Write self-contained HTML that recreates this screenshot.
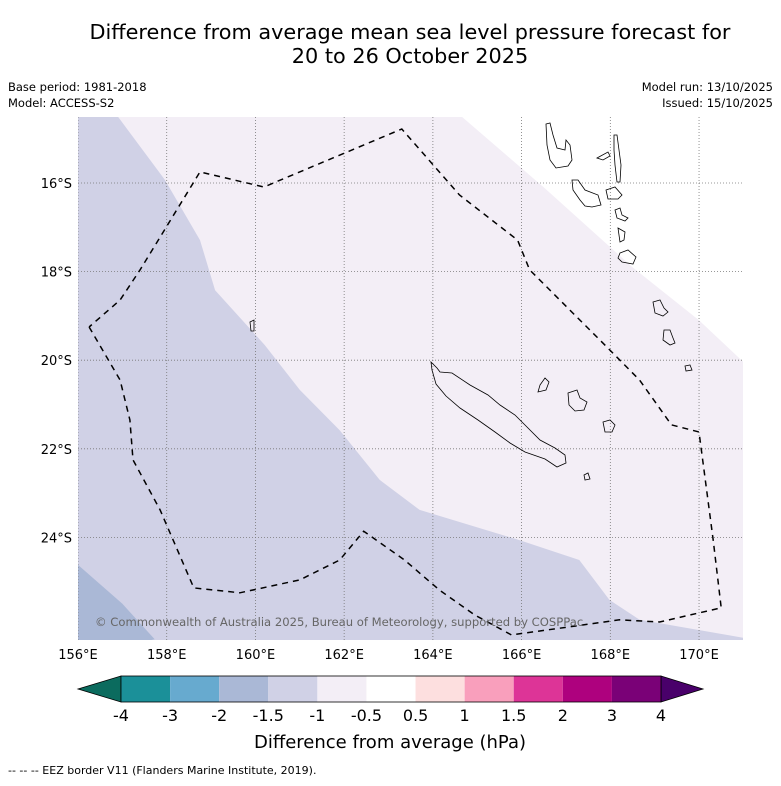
<!DOCTYPE html>
<html><head><meta charset="utf-8"><style>
html,body{margin:0;padding:0;background:#fff;}
body{width:781px;height:781px;overflow:hidden;font-family:"Liberation Sans","DejaVu Sans",sans-serif;}
</style></head><body>
<svg width="781" height="781" viewBox="0 0 781 781" xmlns="http://www.w3.org/2000/svg" font-family="'DejaVu Sans','Liberation Sans',sans-serif">
<text x="410" y="39" font-size="20.8" text-anchor="middle">Difference from average mean sea level pressure forecast for</text>
<text x="410" y="63" font-size="20.8" text-anchor="middle">20 to 26 October 2025</text>
<text x="8" y="91" font-size="11.5">Base period: 1981-2018</text>
<text x="8" y="107" font-size="11.5">Model: ACCESS-S2</text>
<text x="773" y="91" font-size="11.5" text-anchor="end">Model run: 13/10/2025</text>
<text x="773" y="107" font-size="11.5" text-anchor="end">Issued: 15/10/2025</text>
<defs><clipPath id="mapclip"><rect x="78" y="117" width="665" height="523"/></clipPath></defs>
<g id="map" clip-path="url(#mapclip)"></g>
<g id="axes"></g>
<g id="cbar"></g>
<text x="390" y="748" font-size="18" text-anchor="middle">Difference from average (hPa)</text>
<text x="8" y="774" font-size="11">--  --  -- EEZ border V11 (Flanders Marine Institute, 2019).</text>
</svg>
<script>
const lonTicks=[156,158,160,162,164,166,168,170];
const latTicks=[-16,-18,-20,-22,-24];
const cbLevels=[-4,-3,-2,-1.5,-1,-0.5,0.5,1,1.5,2,3,4];
const cbColors=["#1b9099","#67aacf","#aab8d6","#d0d1e6","#f3eef6","#ffffff","#fddfdf","#f99fbc","#dd3497","#ae017e","#7a0177"];
const cbLow="#0b6b5e", cbHigh="#49006a";
const bandMinus15Lon=[156.9,157.96,158.75,159.09,160.21,161.0,161.9,162.8,163.7,165.95,167.3,167.98,168.66,171.2];
const bandMinus15Lat=[-14.5,-15.93,-17.29,-18.42,-19.66,-20.67,-21.58,-22.7,-23.38,-24.06,-24.51,-25.41,-25.86,-26.3];
const bandZeroLon=[164.65,166.5,168.5,170.0,171.0];
const bandZeroLat=[-14.5,-16.1,-17.9,-19.1,-20.04];
const bandMinus2Lon=[156.0,157.0,157.73];
const bandMinus2Lat=[-24.62,-25.5,-26.3];
const eezLon=[156.25,156.95,157.17,157.24,157.85,158.61,159.65,161.0,161.9,162.44,163.36,164.15,164.94,165.77,166.86,168.21,169.11,170.5,170.32,170.0,169.38,168.66,167.76,167.2,166.18,165.91,164.6,163.3,160.19,158.75,157.4,156.95,156.25];
const eezLat=[-19.25,-20.45,-21.35,-22.25,-23.38,-25.14,-25.25,-24.96,-24.51,-23.86,-24.51,-25.19,-25.75,-26.2,-26.05,-25.86,-25.91,-25.59,-24.06,-21.62,-21.46,-20.45,-19.54,-18.98,-17.96,-17.29,-16.27,-14.78,-16.09,-15.75,-17.96,-18.64,-19.25];
const X=lon=>78+(lon-156)*44.36;
const Y=lat=>183+(-16-lat)*44.3;
const NS="http://www.w3.org/2000/svg";
function mk(t,a,p){const e=document.createElementNS(NS,t);for(const k in a)e.setAttribute(k,a[k]);p.appendChild(e);return e;}
const map=document.getElementById('map'), axes=document.getElementById('axes'), cb=document.getElementById('cbar');
function pts(lo,la){return lo.map((v,i)=>X(v).toFixed(1)+','+Y(la[i]).toFixed(1));}
let bg=mk('rect',{x:78,y:117,width:665,height:523,fill:cbColors[3]},map);


let p1=mk('polygon',{points:pts(bandMinus15Lon,bandMinus15Lat).join(' ')+' 760,640 760,100 '+X(bandMinus15Lon[0])+',100',fill:cbColors[4]},map);


let p2=mk('polygon',{points:pts(bandZeroLon,bandZeroLat).join(' ')+' 760,'+Y(-20.2)+' 760,100 '+X(bandZeroLon[0])+',100',fill:cbColors[5]},map);


let p3=mk('polygon',{points:pts(bandMinus2Lon,bandMinus2Lat).join(' ')+' 60,660 60,'+Y(-24.6),fill:cbColors[2]},map);


lonTicks.forEach(l=>{let g=mk('line',{x1:X(l),x2:X(l),y1:117,y2:640,stroke:'#777','stroke-width':0.8,'stroke-dasharray':'1,2'},map);


let t=mk('text',{x:X(l),y:659,'font-size':13,'text-anchor':'middle'},axes);t.textContent=l+'°E';

});
latTicks.forEach(l=>{let g=mk('line',{x1:78,x2:743,y1:Y(l),y2:Y(l),stroke:'#777','stroke-width':0.8,'stroke-dasharray':'1,2'},map);


let t=mk('text',{x:72,y:Y(l)+5,'font-size':13,'text-anchor':'end'},axes);t.textContent=(-l)+'°S';

});
const isl=["M431,362 L437,368 L440,372 L452,373 L470,385 L488,395 L500,405 L515,415 L525,425 L540,440 L555,448 L565,455 L566,463 L557,467 L545,459 L525,452 L510,443 L495,432 L478,420 L460,408 L446,396 L436,384 L432,370 Z",
"M546,124 L550,123 L553,135 L557,148 L565,150 L566,140 L570,145 L572,160 L568,166 L556,168 L550,160 L547,145 Z",
"M572,180 L578,180 L585,190 L598,195 L601,205 L592,207 L585,206 L580,200 L573,190 Z",
"M597,158 L608,152 L610,156 L603,160 Z","M614,135 L617,135 L619,150 L621,165 L620,182 L617,182 L615,165 L614,150 Z",
"M606,190 L615,187 L622,195 L618,199 L608,199 Z","M615,210 L620,208 L622,215 L628,218 L625,221 L617,218 Z",
"M618,228 L625,232 L624,240 L620,242 Z","M620,253 L628,250 L636,257 L633,264 L622,262 L618,258 Z",
"M653,302 L660,300 L664,308 L668,312 L663,316 L655,313 Z","M664,330 L670,330 L673,338 L675,343 L670,345 L663,340 Z",
"M685,366 L690,365 L692,370 L686,371 Z","M568,393 L577,390 L580,398 L587,402 L584,410 L575,411 L569,405 Z",
"M540,385 L545,378 L549,382 L546,390 L538,392 Z","M603,422 L610,420 L615,425 L612,432 L605,432 Z",
"M584,475 L588,473 L590,479 L585,480 Z","M250,322 L254,320 L254,331 L251,331 Z"];
isl.forEach(d=>{let e=mk('path',{d:d,fill:'none',stroke:'#000','stroke-width':0.8},map);

});
let ez=mk('polyline',{points:pts(eezLon,eezLat).join(' '),fill:'none',stroke:'#000','stroke-width':1.5,'stroke-dasharray':'6,5'},map);


let cr=mk('text',{x:95,y:626,'font-size':11.6,fill:'#666'},map);cr.textContent='© Commonwealth of Australia 2025, Bureau of Meteorology, supported by COSPPac';


const cbL=121,cbR=661,cbT=676,cbB=702,n=cbColors.length,w=(cbR-cbL)/n;
let lt=mk('polygon',{points:`${cbL},${cbT} ${cbL},${cbB} 78,${(cbT+cbB)/2}`,fill:cbLow,stroke:'#000','stroke-width':0.8},cb);


let rt=mk('polygon',{points:`${cbR},${cbT} ${cbR},${cbB} 703,${(cbT+cbB)/2}`,fill:cbHigh,stroke:'#000','stroke-width':0.8},cb);


cbColors.forEach((c,i)=>{let r=mk('rect',{x:cbL+i*w,y:cbT,width:w,height:cbB-cbT,fill:c},cb);

});
mk('rect',{x:cbL,y:cbT,width:cbR-cbL,height:cbB-cbT,fill:'none',stroke:'#000','stroke-width':0.8},cb);
cbLevels.forEach((v,i)=>{let t=mk('text',{x:cbL+i*w,y:721,'font-size':16,'text-anchor':'middle'},cb);t.textContent=v;

});
</script>
</body></html>
